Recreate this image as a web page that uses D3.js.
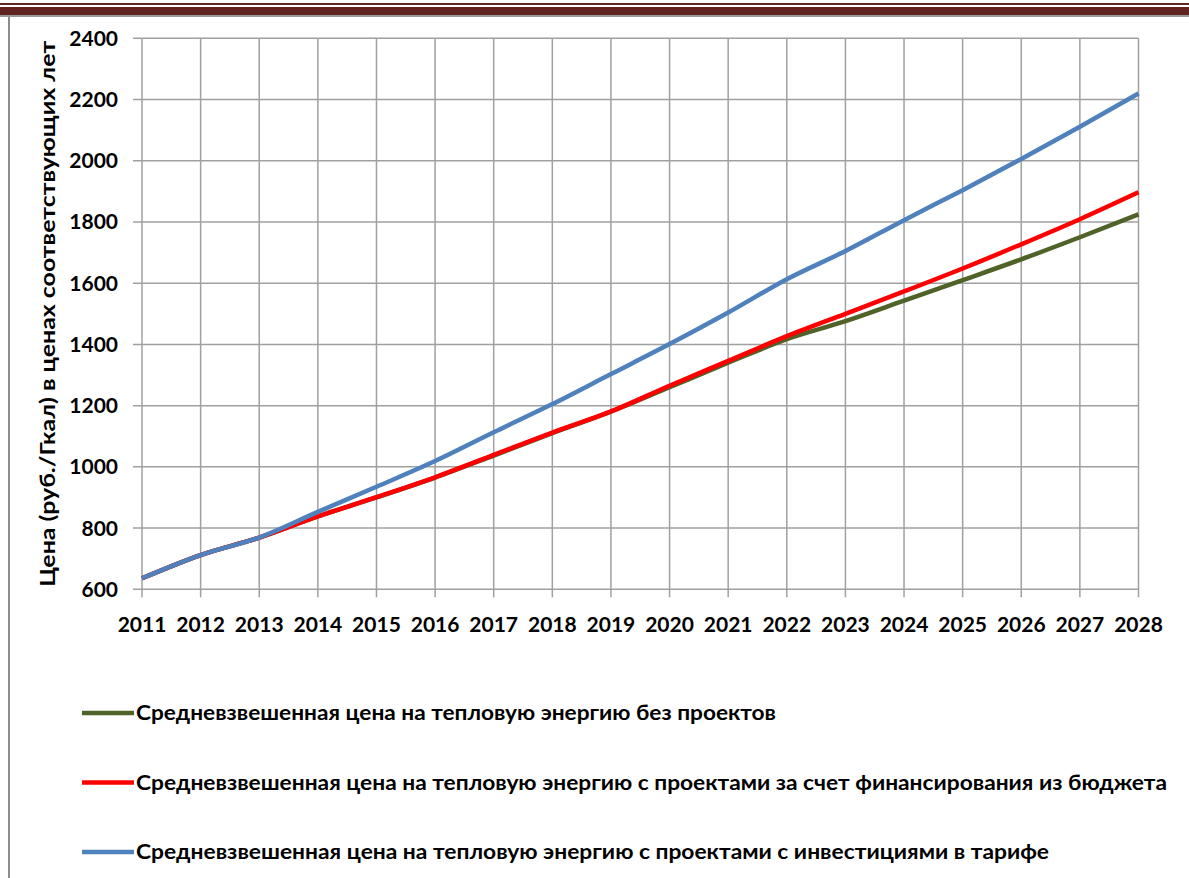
<!DOCTYPE html>
<html>
<head>
<meta charset="utf-8">
<script src="https://cdn.jsdelivr.net/npm/d3@7"></script>
<style>
  body { margin: 0; background: #fff; }
  svg { display: block; font-family: Lato, "Open Sans", sans-serif; }
</style>
</head>
<body>
<div id="chart"></div>
<script>
const years = [2011, 2012, 2013, 2014, 2015, 2016, 2017, 2018, 2019, 2020,
  2021, 2022, 2023, 2024, 2025, 2026, 2027, 2028];
const noProjects = [636, 712, 769, 838, 900, 965, 1037, 1110, 1180, 1260,
  1340, 1417, 1476, 1543, 1610, 1678, 1750, 1825];
const budgetProjects = [636, 712, 769, 838, 901, 966, 1039, 1112, 1181, 1265,
  1346, 1427, 1500, 1573, 1648, 1727, 1809, 1897];
const tariffProjects = [636, 712, 769, 853, 935, 1019, 1113, 1205, 1303, 1401,
  1504, 1613, 1705, 1806, 1904, 2006, 2111, 2220];
const yTicks = [600, 800, 1000, 1200, 1400, 1600, 1800, 2000, 2200, 2400];
const seriesNames = [
  "Средневзвешенная цена на тепловую энергию без проектов",
  "Средневзвешенная цена на тепловую энергию с проектами за счет финансирования из бюджета",
  "Средневзвешенная цена на тепловую энергию с проектами с инвестициями в тарифе"
];
const yTitle = "Цена (руб./Гкал) в ценах соответствующих лет";

const width = 1189;
const height = 878;
const colors = ["#4f6228", "#ff0000", "#4f81bd"];
const seriesValues = [noProjects, budgetProjects, tariffProjects];
// fitted widths of the legend labels (Calibri in the original)
const legendWidths = [640, 1031, 913];

const svg = d3.select("#chart").append("svg")
  .attr("width", width)
  .attr("height", height);

// page decoration: double dark red rule and left frame
svg.append("rect").attr("x", 0).attr("y", 3).attr("width", width).attr("height", 2).attr("fill", "#622423");
svg.append("rect").attr("x", 0).attr("y", 15).attr("width", width).attr("height", 2).attr("fill", "#9a9a9a");
svg.append("rect").attr("x", 0).attr("y", 7).attr("width", width).attr("height", 8).attr("fill", "#622423");
svg.append("rect").attr("x", 8).attr("y", 17).attr("width", 2).attr("height", height - 17).attr("fill", "#8c8c8c");

const x = d3.scaleLinear().domain([2011, 2028]).range([142, 1138.5]);
const y = d3.scaleLinear().domain([600, 2400]).range([589.3, 38.3]);

const grid = svg.append("g").attr("stroke", "#a0a0a0").attr("stroke-width", 1.5);
grid.selectAll("line.h").data(yTicks).enter().append("line")
  .attr("x1", 133).attr("x2", x(2028))
  .attr("y1", (d) => y(d)).attr("y2", (d) => y(d));
grid.selectAll("line.v").data(years).enter().append("line")
  .attr("x1", (d) => x(d)).attr("x2", (d) => x(d))
  .attr("y1", y(2400)).attr("y2", y(600) + 8);

svg.append("g").selectAll("text").data(yTicks).enter().append("text")
  .attr("x", 118).attr("y", (d) => y(d) + 7.5)
  .attr("text-anchor", "end")
  .attr("font-size", 21).attr("font-weight", "bold")
  .text((d) => d);

svg.append("g").selectAll("text").data(years).enter().append("text")
  .attr("x", (d) => x(d)).attr("y", 632)
  .attr("text-anchor", "middle")
  .attr("font-size", 21).attr("font-weight", "bold")
  .text((d) => d);

svg.append("text")
  .attr("transform", "translate(55," + (y(600) + y(2400)) / 2 + ") rotate(-90)")
  .attr("text-anchor", "middle")
  .attr("font-size", 20).attr("font-weight", "bold")
  .attr("textLength", 546).attr("lengthAdjust", "spacingAndGlyphs")
  .text(yTitle);

const line = d3.line()
  .x((d, i) => x(years[i]))
  .y((d) => y(d))
  .curve(d3.curveMonotoneX);

svg.append("g").selectAll("path").data(seriesValues).enter().append("path")
  .attr("d", line)
  .attr("fill", "none")
  .attr("stroke", (d, i) => colors[i])
  .attr("stroke-width", 4.5)
  .attr("stroke-linejoin", "round");

const legend = svg.append("g").selectAll("g").data(seriesNames).enter().append("g")
  .attr("transform", (d, i) => "translate(0," + (713 + i * 69.5) + ")");
legend.append("line")
  .attr("x1", 82).attr("x2", 134)
  .attr("stroke", (d, i) => colors[i])
  .attr("stroke-width", 4.5);
legend.append("text")
  .attr("x", 136).attr("y", 7)
  .attr("font-size", 20.5).attr("font-weight", "bold")
  .attr("textLength", (d, i) => legendWidths[i]).attr("lengthAdjust", "spacingAndGlyphs")
  .text((d) => d);
</script>
</body>
</html>
